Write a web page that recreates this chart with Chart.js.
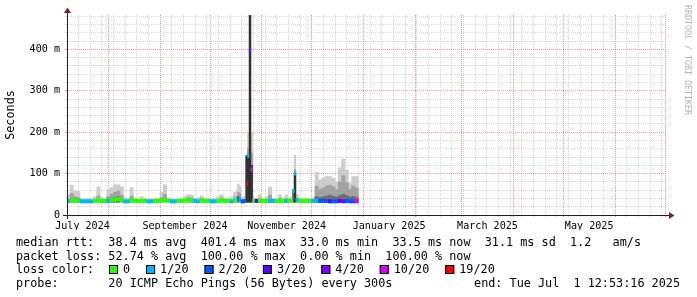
<!DOCTYPE html>
<html>
<head>
<meta charset="utf-8">
<script src="https://cdn.jsdelivr.net/npm/chart.js@4.4.1/dist/chart.umd.min.js"></script>
<style>
  html, body { margin: 0; padding: 0; background: #fff; }
  canvas { display: block; }
</style>
</head>
<body>
<canvas id="ping-chart" width="697" height="297"></canvas>
<script>
const _ = null;

// x = days since 1 July 2024 00:00, one entry per sample
const days = [
    7, 9, 11, 13, 15, 17, 19, 21, 23, 25, 27, 29, 31, 33, 35, 37, 39, 41, 43, 45,
    47, 49, 51, 53, 55, 57, 59, 61, 63, 65, 67, 69, 71, 73, 75, 77, 79, 81, 83, 85,
    87, 89, 91, 93, 95, 97, 99, 101, 103, 105, 107,
    108, 109, 110, 111, 112, 113, 114, 115, 116, 117, 118,
    120, 122, 124, 126, 128, 130, 132, 134, 136, 138,
    139, 140, 141, 142, 143, 144,
    146, 148, 150, 152, 154, 156, 158, 160, 162, 164, 166, 168, 170, 172, 174, 176, 178, 180
];
// median rtt in ms
const medianMs = [
    34, 35, 35, 34, 33, 33, 33, 33, 34, 35, 34, 34, 34, 36, 37, 38, 36, 33, 33, 35,
    34, 34, 34, 34, 33, 33, 34, 34, 35, 36, 34, 33, 33, 34, 34, 35, 35, 35, 34, 33,
    35, 34, 34, 33, 33, 34, 35, 34, 34, 33, 35,
    36, 38, 37, 33, 33, 34, 75, 143, 400, 110, 34,
    34, 34, 34, 34, 34, 34, 34, 34, 34, 34,
    34, 34, 35, 58, 100, 36,
    34, 34, 34, 34, 34, 34, 34, 34, 34, 33, 33, 33, 34, 33, 34, 33, 33, 33
];
// pings lost out of 20
const lostPings = [
    1, 0, 0, 0, 1, 1, 1, 1, 0, 0, 0, 0, 1, 0, 0, 0, 0, 1, 1, 0,
    0, 0, 0, 0, 1, 1, 0, 0, 0, 0, 0, 1, 1, 0, 0, 0, 0, 0, 1, 1,
    0, 0, 0, 1, 1, 0, 0, 0, 0, 1, 0,
    0, 2, 1, 2, 2, 2, 19, 1, 4, 10, 0,
    3, 0, 0, 0, 1, 1, 0, 0, 0, 1,
    0, 0, 0, 1, 1, 1,
    0, 0, 0, 0, 1, 1, 2, 2, 2, 3, 2, 2, 3, 4, 2, 2, 2, 10
];
// smoke: slowest ping, upper quartile, bulk of pings (ms)
const smokeHi = [
    48, 72, 58, 57, 40, 38, 40, 39, 44, 68, 42, 40, 62, 66, 73, 73, 68, 42, 40, 66,
    40, 39, 44, 40, 39, 38, 40, 40, 55, 73, 42, 39, 38, 40, 40, 46, 49, 48, 40, 42,
    46, 40, 40, 39, 40, 44, 49, 42, 40, 44, 55,
    58, 75, 70, 42, 44, 45, 143, 198, 482, 198, 42,
    40, 49, 40, 44, 68, 40, 40, 49, 42, 49,
    40, 42, 44, 60, 145, 50,
    40, 40, 40, 40, 42, 103, 85, 90, 93, 93, 89, 80, 114, 135, 109, 77, 93, 93
];
const smokeMid = [
    _, 52, 44, 42, _, _, _, _, _, 46, _, _, 44, 50, 55, 58, 48, _, _, 45,
    _, _, _, _, _, _, _, _, 42, 50, _, _, _, _, _, _, 42, 41, _, _,
    40, _, _, _, _, _, 41, _, _, _, 42,
    45, 55, 52, _, _, _, 143, 160, 482, 150, _,
    _, 40, _, _, 48, _, _, 40, _, 40,
    _, _, _, 58, 110, 40,
    _, _, _, _, _, 70, 62, 65, 70, 72, 68, 62, 80, 95, 78, 62, 70, 65
];
const smokeCore = [
    _, _, _, _, _, _, _, _, _, _, _, _, _, 40, 42, 44, _, _, _, _,
    _, _, _, _, _, _, _, _, _, _, _, _, _, _, _, _, _, _, _, _,
    _, _, _, _, _, _, _, _, _, _, _,
    _, 45, _, _, _, _, 143, 143, 482, 120, _,
    _, _, _, _, _, _, _, _, _, _,
    _, _, _, 58, 101, _,
    _, _, _, _, _, 44, 42, 44, 46, 48, 45, 43, 47, 50, 47, 43, 45, 42
];
const minPingMs = 31;

const monthStarts = [0, 31, 62, 92, 123, 153, 184, 215, 243, 274, 304, 335, 365];
const monthLabelDays = [15.5, 77, 138, 199.5, 258.5, 319.5];
const monthLabels = ['July 2024', 'September 2024', 'November 2024', 'January 2025', 'March 2025', 'May 2025'];
const firstSunday = 6;

const lossSteps = [0, 1, 2, 3, 4, 10, 19];
const lossLabels = ['0', '1/20', '2/20', '3/20', '4/20', '10/20', '19/20'];
const lossColors = ['#26ff00', '#00b8ff', '#0059ff', '#5e00ff', '#7e00ff', '#dd00ff', '#ff0000'];

const statNames = ['avg', 'max', 'min', 'now'];
const rttStats = [38.4, 401.4, 33.0, 33.5];
const lossStats = [52.74, 100.00, 0.00, 100.00];
const rttSd = 31.1;
const amPerSec = 1.2;
const probeText = '20 ICMP Echo Pings (56 Bytes) every 300s';
const endText = 'end: Tue Jul  1 12:53:16 2025';

// view window
const xMin = 6.2, xMax = 366.2, yMax = 483;

const MONO = "'DejaVu Sans Mono', monospace";
const gridMinor = 'rgba(150,150,150,0.38)';
const gridMajor = 'rgba(255,40,40,0.5)';

function lossColor(n) {
    let c = lossColors[0];
    lossSteps.forEach((s, i) => { if (n >= s) c = lossColors[i]; });
    return c;
}

function smokeBand(values) {
    return days.map((d, i) => ({ x: d, y: values[i] == null ? null : [minPingMs, values[i]] }));
}

// grid ticks on the time axis
const monthSet = new Set(monthStarts);
const labelMap = new Map(monthLabelDays.map((d, i) => [d, monthLabels[i]]));
const xTickSet = new Set();
for (let d = firstSunday; d <= xMax; d += 7) if (d >= xMin) xTickSet.add(d);
monthStarts.forEach(d => { if (d >= xMin && d <= xMax) xTickSet.add(d); });
monthLabelDays.forEach(d => xTickSet.add(d));
const xTicks = [...xTickSet].sort((a, b) => a - b);

// all layers share one slot so they overlap instead of sitting side by side
const barCommon = {
    type: 'bar',
    stack: 'layers',
    barThickness: 'flex',
    categoryPercentage: 1,
    barPercentage: 1,
    borderWidth: 0
};

const rrdDecor = {
    id: 'rrdDecor',
    beforeDraw(chart) {
        const c = chart.ctx;
        c.save();
        c.fillStyle = '#fff';
        c.fillRect(0, 0, chart.width, chart.height);
        c.restore();
    },
    afterDraw(chart) {
        const c = chart.ctx;
        const a = chart.chartArea;
        c.save();

        // axes with arrow heads
        c.strokeStyle = 'rgb(31,31,31)';
        c.lineWidth = 1;
        c.beginPath();
        c.moveTo(a.left - 4, a.bottom + 0.5);
        c.lineTo(a.right + 4, a.bottom + 0.5);
        c.moveTo(a.left + 0.5, a.bottom + 4);
        c.lineTo(a.left + 0.5, a.top - 4);
        c.stroke();
        c.fillStyle = 'rgb(128,31,31)';
        c.beginPath();
        c.moveTo(a.right + 2, a.bottom - 3);
        c.lineTo(a.right + 2, a.bottom + 4);
        c.lineTo(a.right + 7.5, a.bottom + 0.5);
        c.closePath();
        c.fill();
        c.beginPath();
        c.moveTo(a.left - 3, a.top - 2);
        c.lineTo(a.left + 4, a.top - 2);
        c.lineTo(a.left + 0.5, a.top - 7.5);
        c.closePath();
        c.fill();

        // watermark
        c.save();
        c.translate(687, 5);
        c.rotate(Math.PI / 2);
        c.font = "8.3px " + MONO;
        c.fillStyle = '#b4b4b4';
        c.textBaseline = 'middle';
        c.fillText('RRDTOOL / TOBI OETIKER', 0, 0);
        c.restore();

        // legend block
        c.font = "11.8px " + MONO;
        c.fillStyle = '#000';
        c.textBaseline = 'alphabetic';
        const rttLine = 'median rtt:  ' +
            rttStats.map((v, i) => v.toFixed(1) + ' ms ' + statNames[i]).join('  ') +
            '  ' + rttSd.toFixed(1) + ' ms sd  ' + amPerSec.toFixed(1) + '   am/s';
        const lossLine = 'packet loss: ' +
            lossStats.map((v, i) => v.toFixed(2) + ' % ' + statNames[i]).join('  ');
        c.fillText(rttLine, 16, 245.5);
        c.fillText(lossLine, 16, 259.5);
        c.fillText('loss color:', 16, 273);
        let bx = 109;
        lossLabels.forEach((lab, i) => {
            c.fillStyle = lossColors[i];
            c.fillRect(bx, 265, 9, 9);
            c.strokeStyle = '#000';
            c.strokeRect(bx + 0.5, 265.5, 8, 8);
            c.fillStyle = '#000';
            c.fillText(lab, bx + 14, 273);
            bx += 14 + c.measureText(lab).width + 16;
        });
        c.fillText('probe:       ' + probeText, 16, 286.5);
        c.textAlign = 'right';
        c.fillText(endText, 680, 286.5);
        c.restore();
    }
};

new Chart(document.getElementById('ping-chart'), {
    type: 'bar',
    data: {
        datasets: [
            Object.assign({}, barCommon, {
                label: 'median',
                order: 0,
                data: days.map((d, i) => ({ x: d, y: [medianMs[i] - 4, medianMs[i] + 4] })),
                backgroundColor: lostPings.map(lossColor)
            }),
            Object.assign({}, barCommon, {
                label: 'smoke core',
                order: 1,
                data: smokeBand(smokeCore),
                // tall dense columns come out near black, short ones mid grey
                backgroundColor: smokeCore.map(v => v != null && v > 100 ? '#303030' : '#6e6e6e')
            }),
            Object.assign({}, barCommon, {
                label: 'smoke mid',
                order: 2,
                data: smokeBand(smokeMid),
                backgroundColor: '#a2a2a2'
            }),
            Object.assign({}, barCommon, {
                label: 'smoke',
                order: 3,
                data: smokeBand(smokeHi),
                backgroundColor: '#cdcdcd'
            })
        ]
    },
    options: {
        responsive: false,
        animation: false,
        events: [],
        layout: { padding: { left: 0, right: 30, top: 15, bottom: 67 } },
        plugins: {
            legend: { display: false },
            tooltip: { enabled: false }
        },
        scales: {
            x: {
                type: 'linear',
                stacked: true,
                min: xMin,
                max: xMax,
                offset: false,
                afterBuildTicks: s => { s.ticks = xTicks.map(v => ({ value: v })); },
                afterFit: s => { s.height = 15; },
                grid: {
                    offset: false,
                    tickLength: 2,
                    color: c => monthSet.has(c.tick.value) ? gridMajor
                        : labelMap.has(c.tick.value) ? 'rgba(0,0,0,0)' : gridMinor
                },
                border: { display: false, dash: [1, 1] },
                ticks: {
                    autoSkip: false,
                    maxRotation: 0,
                    minRotation: 0,
                    padding: 3,
                    color: '#000',
                    font: { family: MONO, size: 10.1 },
                    callback: v => labelMap.get(v) || ''
                }
            },
            y: {
                stacked: false,
                min: 0,
                max: yMax,
                afterBuildTicks: s => {
                    const t = [];
                    for (let v = 0; v < yMax; v += 20) t.push({ value: v });
                    s.ticks = t;
                },
                afterFit: s => { s.width = 67; },
                grid: {
                    tickLength: 2,
                    color: c => c.tick.value % 100 === 0 ? gridMajor : gridMinor
                },
                border: { display: false, dash: [1, 1] },
                ticks: {
                    autoSkip: false,
                    padding: 5,
                    color: '#000',
                    font: { family: MONO, size: 10.1 },
                    callback: v => v % 100 === 0 ? (v === 0 ? '0' : v + ' m') : ''
                },
                title: {
                    display: true,
                    text: 'Seconds',
                    color: '#000',
                    font: { family: MONO, size: 11.8 },
                    padding: { top: 4, bottom: 0 }
                }
            }
        }
    },
    plugins: [rrdDecor]
});
</script>
</body>
</html>
